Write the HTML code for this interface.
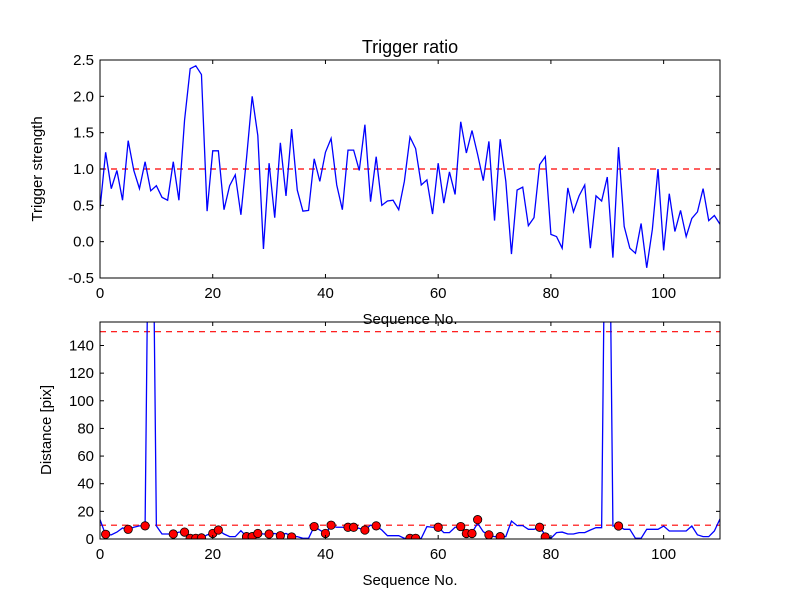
<!DOCTYPE html>
<html><head><meta charset="utf-8"><style>
html,body{margin:0;padding:0;background:#fff;}
svg{display:block;font-family:"Liberation Sans","DejaVu Sans",sans-serif;}
</style></head><body>
<svg id="c" width="800" height="600"></svg>
<script>
const seqIndex = Array.from({length:111},(_, i)=>i);
const triggerStrength = [0.45,1.23,0.73,0.98,0.57,1.39,0.98,0.73,1.1,0.7,0.77,0.61,0.57,1.1,0.57,1.67,2.38,2.42,2.3,0.42,1.25,1.25,0.44,0.77,0.92,0.37,1.15,2.0,1.46,-0.1,1.08,0.33,1.36,0.63,1.55,0.71,0.42,0.43,1.14,0.83,1.23,1.42,0.78,0.44,1.26,1.26,0.98,1.61,0.55,1.17,0.5,0.56,0.57,0.44,0.83,1.44,1.28,0.78,0.85,0.38,1.08,0.53,0.96,0.65,1.65,1.22,1.53,1.2,0.84,1.38,0.29,1.41,0.83,-0.17,0.71,0.75,0.22,0.33,1.06,1.17,0.1,0.07,-0.09,0.74,0.41,0.63,0.78,-0.09,0.63,0.56,0.89,-0.22,1.3,0.21,-0.09,-0.16,0.25,-0.36,0.17,1.0,-0.12,0.66,0.14,0.43,0.07,0.32,0.41,0.73,0.29,0.36,0.24];
const distance = [14,3,3,5,8,7,8.5,9.5,9.5,400,9.5,3.6,3.6,3.6,5,5,1.7,0.5,0.5,3,4,6.5,3.6,1.7,1.7,6,1.7,1.7,4,3.6,3.6,4,3,4,2,1.7,0.5,0.5,9,6.5,4,9.5,8.5,8.5,8.5,8.5,7.7,6.5,10,9.5,6.5,2.4,2.4,2.4,0.5,0.5,0,0.5,9,8.5,8.5,4.6,4.6,8.5,8.5,4.6,4.6,11.4,5.3,2.4,1.7,1.7,1.7,13,9.7,9.7,7,7,8.5,3,0.5,4.6,5,3.6,3.6,4.6,4.6,6.5,8.2,8.2,400,9.4,9.4,7,7,0.5,0.5,7,7,7,9.4,5.8,5.8,5.8,5.8,9.4,3,1.7,1.7,5.8,14.5];
const markerIdx = [1,5,8,13,15,16,17,18,20,21,26,27,28,30,32,34,38,40,41,44,45,47,49,55,56,60,64,65,66,67,69,71,78,79,92];
const markerVal = [3.4,7,9.5,3.6,5,0.5,0.5,0.8,4,6.5,1.7,1.7,4,3.6,2.4,1.5,9,4,10,8.5,8.5,6.5,9.5,0.5,0.5,8.5,9,4,4,14,3,1.7,8.5,1.5,9.4];
const xTicks = [0,20,40,60,80,100];
const yTicksTop = [-0.5,0.0,0.5,1.0,1.5,2.0,2.5];
const yTicksBot = [0,20,40,60,80,100,120,140];
const thresholdTop = 1.0, thresholdBotHigh = 150, thresholdBotLow = 10;

const NS="http://www.w3.org/2000/svg", svg=document.getElementById('c');
function mk(tag,attrs,parent){const e=document.createElementNS(NS,tag);for(const k in attrs)e.setAttribute(k,attrs[k]);(parent||svg).appendChild(e);return e;}
const L=100,R=720;
const x=v=>L+(v-0)/(110-0)*(R-L);
const T={top:60,bot:278,min:-0.5,max:2.5}, B={top:322,bot:539,min:0,max:157};
const yT=v=>T.bot-(v-T.min)/(T.max-T.min)*(T.bot-T.top);
const yB=v=>B.bot-(v-B.min)/(B.max-B.min)*(B.bot-B.top);

const defs=mk('defs',{});
const cp=mk('clipPath',{id:'clipB'},defs); mk('rect',{x:L,y:B.top,width:R-L,height:B.bot-B.top},cp);
const cpt=mk('clipPath',{id:'clipT'},defs); mk('rect',{x:L,y:T.top,width:R-L,height:T.bot-T.top},cpt);

function axes(P,yf,yticks,fmt,name){
  const g=mk('g',{});
  
  
  xTicks.forEach(t=>{
    mk('line',{x1:x(t),x2:x(t),y1:P.bot,y2:P.bot-4,stroke:'#000'},g);
    mk('line',{x1:x(t),x2:x(t),y1:P.top,y2:P.top+4,stroke:'#000'},g);
    const tx=mk('text',{x:x(t),y:P.bot+20,'text-anchor':'middle','font-size':'15'},g);tx.textContent=t;
    
    
  });
  yticks.forEach(t=>{
    mk('line',{x1:L,x2:L+4,y1:yf(t),y2:yf(t),stroke:'#000'},g);
    mk('line',{x1:R,x2:R-4,y1:yf(t),y2:yf(t),stroke:'#000'},g);
    const tx=mk('text',{x:L-6,y:yf(t)+5,'text-anchor':'end','font-size':'15'},g);tx.textContent=fmt(t);
    
    
  });
  return g;
}
// top
mk('line',{x1:L,x2:R,y1:yT(thresholdTop),y2:yT(thresholdTop),stroke:'#f00','stroke-dasharray':'6,5','stroke-width':1.2});
mk('polyline',{points:seqIndex.map((i,k)=>x(i)+','+yT(triggerStrength[k])).join(' '),fill:'none',stroke:'#00f','stroke-width':1.3,'clip-path':'url(#clipT)',});
mk('rect',{x:L,y:T.top,width:R-L,height:T.bot-T.top,fill:'none',stroke:'#000'});
axes(T,yT,yTicksTop,t=>t.toFixed(1),'top-axes');
// bottom
mk('line',{x1:L,x2:R,y1:yB(thresholdBotHigh),y2:yB(thresholdBotHigh),stroke:'#f00','stroke-dasharray':'6,5','stroke-width':1.2});
mk('line',{x1:L,x2:R,y1:yB(thresholdBotLow),y2:yB(thresholdBotLow),stroke:'#f00','stroke-dasharray':'6,5','stroke-width':1.2});
mk('polyline',{points:seqIndex.map((i,k)=>x(i)+','+yB(distance[k])).join(' '),fill:'none',stroke:'#00f','stroke-width':1.3,'clip-path':'url(#clipB)',});
markerIdx.forEach((i,k)=>{
  const c=mk('circle',{cx:x(i),cy:yB(markerVal[k]),r:4.2,fill:'#f00',stroke:'#000','stroke-width':0.8,'clip-path':'url(#clipB)'});
  
  
});
mk('rect',{x:L,y:B.top,width:R-L,height:B.bot-B.top,fill:'none',stroke:'#000'});
axes(B,yB,yTicksBot,t=>String(t),'bottom-axes');
// labels
function label(txt,attrs,name){const t=mk('text',attrs);t.textContent=txt;}
label('Trigger ratio',{x:410,y:53,'text-anchor':'middle','font-size':'18'},'chart-title');
label('Sequence No.',{x:410,y:324,'text-anchor':'middle','font-size':'15'},'top-x-axis-title');
label('Sequence No.',{x:410,y:585,'text-anchor':'middle','font-size':'15'},'bottom-x-axis-title');
label('Trigger strength',{x:0,y:0,'text-anchor':'middle','font-size':'15',transform:'translate(42,169) rotate(-90)'},'top-y-axis-title');
label('Distance [pix]',{x:0,y:0,'text-anchor':'middle','font-size':'15',transform:'translate(51,430) rotate(-90)'},'bottom-y-axis-title');
</script>
</body></html>
